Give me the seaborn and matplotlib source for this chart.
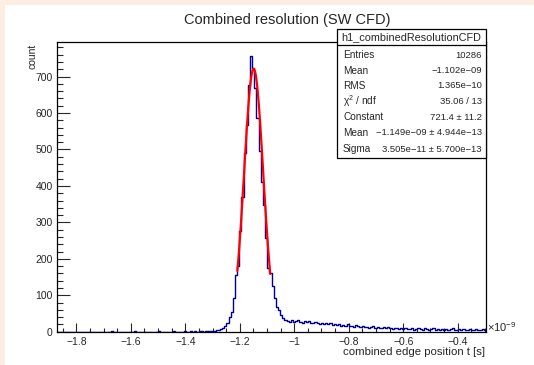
import numpy as np
import pandas as pd
import matplotlib
matplotlib.use("Agg")
import matplotlib.pyplot as plt
import seaborn as sns
from matplotlib.patches import Rectangle
from matplotlib.ticker import MultipleLocator, FixedLocator

# histogram h1_combinedResolutionCFD, x in units of 1e-9 s
x_min, x_max, n_bins = -1.871, -0.296, 200
counts = [0, 0, 0, 0, 0, 0, 0, 0, 0, 0, 0, 0, 0, 0, 0, 0, 0, 0, 0, 0,
          0, 0, 0, 0, 0, 1, 0, 0, 0, 0, 0, 0, 0, 0, 0, 0, 1, 0, 0, 0,
          0, 0, 0, 0, 0, 0, 0, 1, 0, 0, 0, 0, 0, 0, 1, 0, 0, 0, 0, 1,
          0, 0, 1, 0, 1, 0, 1, 1, 0, 1,
          1, 2, 2, 3, 4, 6, 8, 10, 16, 25,
          41, 55, 93, 156, 179, 275, 371, 490, 568, 678,
          757, 723, 668, 586, 495, 412, 348, 256, 174, 160,
          125, 92, 69, 60, 46, 38, 32, 29, 27, 31,
          26, 28, 33, 27, 24, 29, 26, 30, 25, 23,
          27, 24, 22, 25, 21, 24, 20, 23, 19, 21,
          18, 22, 17, 19, 16, 20, 15, 17, 14, 18,
          15, 13, 16, 12, 14, 11, 13, 15, 10, 12,
          11, 9, 12, 10, 13, 9, 8, 11, 10, 8,
          9, 7, 10, 8, 7, 9, 6, 8, 11, 7,
          6, 9, 8, 6, 7, 10, 6, 8, 5, 7,
          6, 8, 5, 7, 9, 6, 5, 7, 6, 8,
          5, 6, 7, 5, 6, 8, 6, 5, 7, 6]

# gaus fit result
fit_const, fit_mean, fit_sigma = 721.4, -1.149, 0.03505
fit_lo, fit_hi = -1.209, -1.088

stat_names = ["Entries", "Mean", "RMS", r"$\chi^{2}$ / ndf", "Constant", "Mean", "Sigma"]
stat_values = ["10286", "\u22121.102e\u221209", "1.365e\u221210", "35.06 / 13",
               "721.4 \u00b1 11.2", "\u22121.149e\u221209 \u00b1 4.944e\u221213",
               "3.505e\u221211 \u00b1 5.700e\u221213"]
x_ticks = [-1.8, -1.6, -1.4, -1.2, -1.0, -0.8, -0.6, -0.4]
x_tick_labels = ["\u22121.8", "\u22121.6", "\u22121.4", "\u22121.2", "\u22121",
                 "\u22120.8", "\u22120.6", "\u22120.4"]

sns.set_style("ticks")
plt.rcParams["font.family"] = ["Liberation Sans", "DejaVu Sans"]
plt.rcParams["mathtext.fontset"] = "custom"
plt.rcParams["mathtext.rm"] = "Liberation Sans"
plt.rcParams["mathtext.it"] = "Liberation Sans"
plt.rcParams["mathtext.bf"] = "Liberation Sans"

W, H = 534, 365
fig = plt.figure(figsize=(W / 100, H / 100), dpi=100, facecolor="#fdeee4")
fig.patches.append(Rectangle((5 / W, 0), 1, 1 - 5 / H, transform=fig.transFigure,
                             facecolor="white", edgecolor="none", zorder=-10))

fl, fr, ft, fb = 57, 486, 42, 331.7
ax = fig.add_axes([fl / W, 1 - fb / H, (fr - fl) / W, (fb - ft) / H])
ax.set_facecolor("white")

edges = np.linspace(x_min, x_max, n_bins + 1)
centers = 0.5 * (edges[:-1] + edges[1:])
df = pd.DataFrame({"t": centers, "count": counts})
sns.histplot(data=df, x="t", weights="count", bins=n_bins, binrange=(x_min, x_max),
             element="step", fill=False, color="#000099", linewidth=1, ax=ax)

fx = np.linspace(fit_lo, fit_hi, 100)
fy = fit_const * np.exp(-0.5 * ((fx - fit_mean) / fit_sigma) ** 2)
sns.lineplot(x=fx, y=fy, color="#ff0000", linewidth=1.6, estimator=None, sort=False, ax=ax)

ax.set_xlim(x_min, x_max)
ax.set_ylim(0, 795)
ax.set_xlabel("")
ax.set_ylabel("")
ax.xaxis.set_major_locator(FixedLocator(x_ticks))
ax.set_xticklabels(x_tick_labels)
ax.xaxis.set_minor_locator(MultipleLocator(0.05))
ax.yaxis.set_major_locator(MultipleLocator(100))
ax.yaxis.set_minor_locator(MultipleLocator(20))
ax.tick_params(axis="x", which="major", direction="in", length=6.3, width=0.8,
               labelsize=7.5, pad=4, top=False)
ax.tick_params(axis="x", which="minor", direction="in", length=3.1, width=0.8, top=False)
ax.tick_params(axis="y", which="major", direction="in", length=9.3, width=0.8,
               labelsize=7.5, pad=3, right=False)
ax.tick_params(axis="y", which="minor", direction="in", length=4.6, width=0.8, right=False)
for s in ax.spines.values():
    s.set_visible(True)
    s.set_color("black")
    s.set_linewidth(0.9)

fig.text(287 / W, 1 - 20 / H, "Combined resolution (SW CFD)", ha="center", va="center",
         fontsize=10.5)
fig.text(32 / W, 1 - 44 / H, "count", rotation=90, ha="center", va="top", fontsize=7.5)
fig.text(485 / W, 1 - 352 / H, "combined edge position t [s]", ha="right", va="center",
         fontsize=8.2)
fig.text(487 / W, 1 - 327 / H, r"$\times10^{-9}$", ha="left", va="center", fontsize=8)

# stats box
bx0, bx1, by0, by1 = 337, 486, 29, 158
fig.patches.append(Rectangle((bx0 / W + 1.5 / W, 1 - (by1 + 1.5) / H), (bx1 - bx0) / W,
                             (by1 - by0) / H, transform=fig.transFigure,
                             facecolor="black", edgecolor="none", zorder=5))
fig.patches.append(Rectangle((bx0 / W, 1 - by1 / H), (bx1 - bx0) / W, (by1 - by0) / H,
                             transform=fig.transFigure, facecolor="white",
                             edgecolor="black", linewidth=0.9, zorder=6))
fig.lines.append(plt.Line2D([bx0 / W, bx1 / W], [1 - 45 / H, 1 - 45 / H],
                            transform=fig.transFigure, color="black", linewidth=0.9,
                            zorder=7))
fig.text((bx0 + bx1) / 2 / W, 1 - 37 / H, "h1_combinedResolutionCFD", ha="center",
         va="center", fontsize=7.8, zorder=8)
row_y = [55, 70.5, 86, 101.5, 117, 133, 149]
for name, val, yy in zip(stat_names, stat_values, row_y):
    fig.text(343 / W, 1 - yy / H, name, ha="left", va="center", fontsize=7.2, zorder=8)
    fig.text(482 / W, 1 - yy / H, val, ha="right", va="center", fontsize=6.8, zorder=8)

fig.savefig("out.png", dpi=100, facecolor=fig.get_facecolor())
